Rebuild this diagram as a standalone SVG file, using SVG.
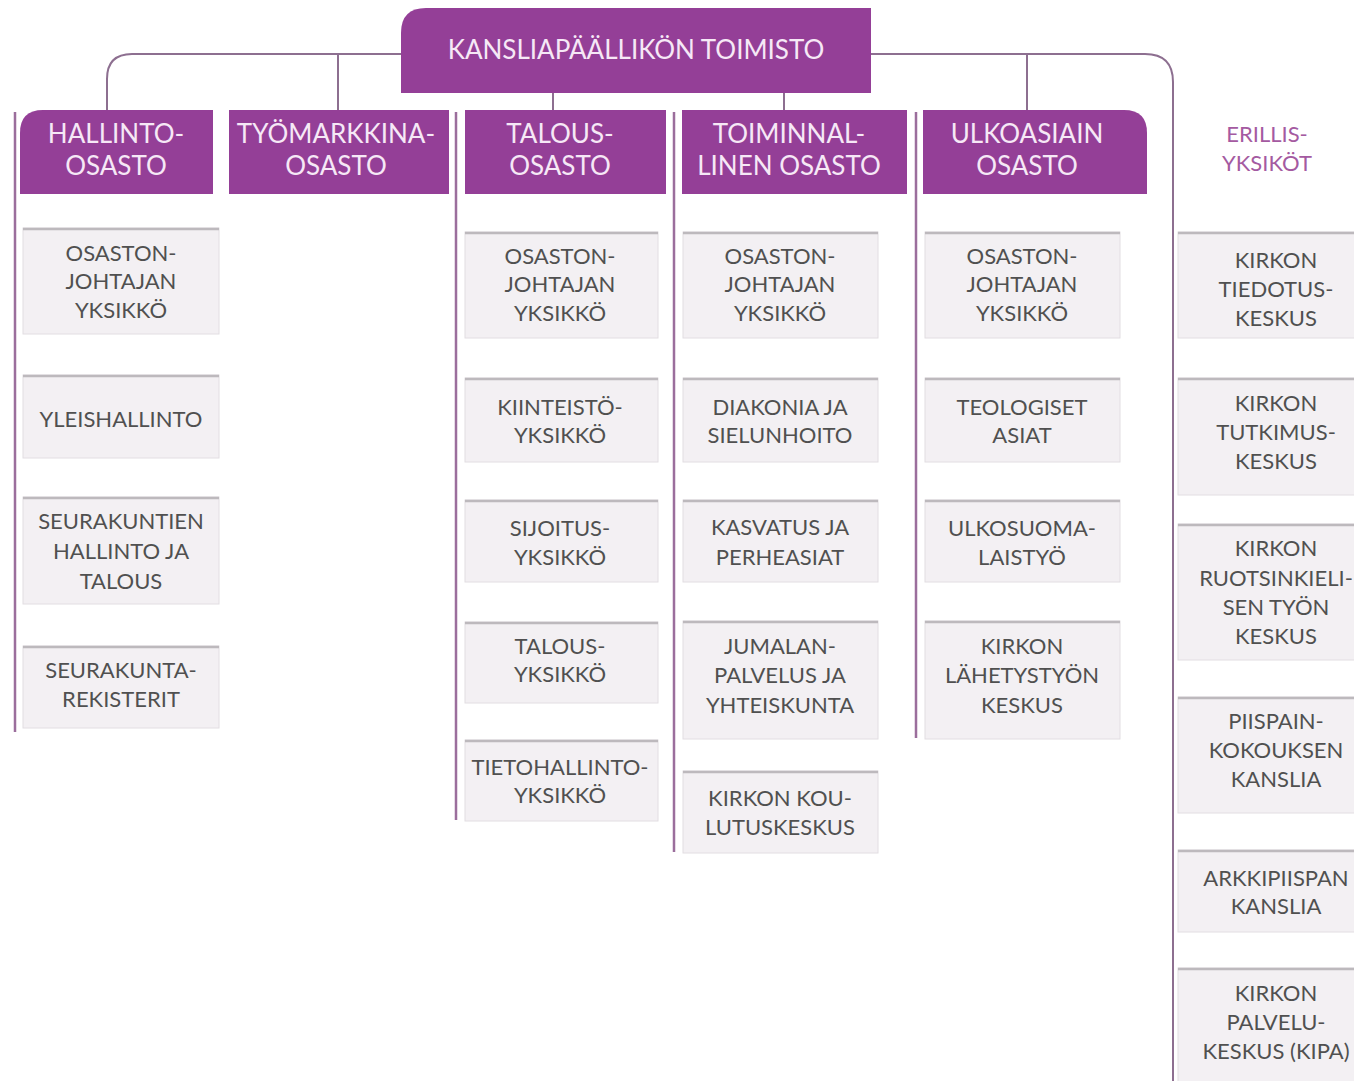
<svg xmlns="http://www.w3.org/2000/svg" width="1354" height="1081" viewBox="0 0 1354 1081">
<style>
.hdr{fill:#943f97}
.ht{font-family:Lato,"Liberation Sans",sans-serif;font-size:26px;fill:#f6e8f6;text-anchor:middle}
.bx{fill:#f3f0f3;stroke:#e2dee2;stroke-width:1}
.bt{stroke:#bdb9bd;stroke-width:2.5;fill:none}
.t{font-family:Lato,"Liberation Sans",sans-serif;font-size:22px;fill:#505050;text-anchor:middle}
.con{fill:none;stroke:#8d6f90;stroke-width:2}
.col{fill:none;stroke:#9b6e9c;stroke-width:2.5}
.er{font-family:Lato,"Liberation Sans",sans-serif;font-size:22px;fill:#a45aa1;text-anchor:middle}
</style>
<rect width="1354" height="1081" fill="#ffffff"/>
<g id="connectors">
<path class="con" d="M401 54 H132 Q107 54 107 79 V110"/>
<path class="con" d="M338 54 V110"/>
<path class="con" d="M553 93 V110"/>
<path class="con" d="M784 93 V110"/>
<path class="con" d="M871 54 H1145 Q1173 54 1173 82 V1081"/>
<path class="con" d="M1027 54 V110"/>
<path class="col" d="M15 112 V732"/>
<path class="col" d="M456 112 V820"/>
<path class="col" d="M674 112 V852"/>
<path class="col" d="M916 112 V738"/>
</g>
<g id="top">
<path class="hdr" d="M426 8 H871 V93 H401 V33 Q401 8 426 8 Z"/>
<text class="ht" x="636" y="59">KANSLIAPÄÄLLIKÖN TOIMISTO</text>
</g>
<g id="hallinto">
<path class="hdr" d="M43 110 H213 V194 H20 V133 Q20 110 43 110 Z"/>
<text class="ht" x="116" y="143">HALLINTO-</text>
<text class="ht" x="116" y="175">OSASTO</text>
</g>
<g id="tyomarkkina">
<rect class="hdr" x="229" y="110" width="220" height="84"/>
<text class="ht" x="336" y="143">TYÖMARKKINA-</text>
<text class="ht" x="336" y="175">OSASTO</text>
</g>
<g id="talous">
<rect class="hdr" x="465" y="110" width="201" height="84"/>
<text class="ht" x="560" y="143">TALOUS-</text>
<text class="ht" x="560" y="175">OSASTO</text>
</g>
<g id="toiminnallinen">
<rect class="hdr" x="682" y="110" width="225" height="84"/>
<text class="ht" x="789" y="143">TOIMINNAL-</text>
<text class="ht" x="789" y="175">LINEN OSASTO</text>
</g>
<g id="ulkoasiain">
<path class="hdr" d="M923 110 H1124 Q1147 110 1147 133 V194 H923 Z"/>
<text class="ht" x="1027" y="143">ULKOASIAIN</text>
<text class="ht" x="1027" y="175">OSASTO</text>
</g>
<g id="erillis">
<text class="er" x="1267" y="142">ERILLIS-</text>
<text class="er" x="1267" y="171">YKSIKÖT</text>
</g>
<!-- Hallinto column -->
<g id="h1"><rect class="bx" x="23" y="228" width="196" height="106"/><path class="bt" d="M23 229 H219"/>
<text class="t" x="121" y="261">OSASTON-</text><text class="t" x="121" y="289">JOHTAJAN</text><text class="t" x="121" y="318">YKSIKKÖ</text></g>
<g id="h2"><rect class="bx" x="23" y="375" width="196" height="83"/><path class="bt" d="M23 376 H219"/>
<text class="t" x="121" y="427">YLEISHALLINTO</text></g>
<g id="h3"><rect class="bx" x="23" y="497" width="196" height="107"/><path class="bt" d="M23 498 H219"/>
<text class="t" x="121" y="529">SEURAKUNTIEN</text><text class="t" x="121" y="559">HALLINTO JA</text><text class="t" x="121" y="589">TALOUS</text></g>
<g id="h4"><rect class="bx" x="23" y="646" width="196" height="82"/><path class="bt" d="M23 647 H219"/>
<text class="t" x="121" y="678">SEURAKUNTA-</text><text class="t" x="121" y="707">REKISTERIT</text></g>
<!-- Talous column -->
<g id="t1"><rect class="bx" x="465" y="232" width="193" height="106"/><path class="bt" d="M465 233 H658"/>
<text class="t" x="560" y="264">OSASTON-</text><text class="t" x="560" y="292">JOHTAJAN</text><text class="t" x="560" y="321">YKSIKKÖ</text></g>
<g id="t2"><rect class="bx" x="465" y="378" width="193" height="84"/><path class="bt" d="M465 379 H658"/>
<text class="t" x="560" y="415">KIINTEISTÖ-</text><text class="t" x="560" y="443">YKSIKKÖ</text></g>
<g id="t3"><rect class="bx" x="465" y="500" width="193" height="82"/><path class="bt" d="M465 501 H658"/>
<text class="t" x="560" y="536">SIJOITUS-</text><text class="t" x="560" y="565">YKSIKKÖ</text></g>
<g id="t4"><rect class="bx" x="465" y="622" width="193" height="81"/><path class="bt" d="M465 623 H658"/>
<text class="t" x="560" y="654">TALOUS-</text><text class="t" x="560" y="682">YKSIKKÖ</text></g>
<g id="t5"><rect class="bx" x="465" y="740" width="193" height="81"/><path class="bt" d="M465 741 H658"/>
<text class="t" x="560" y="775">TIETOHALLINTO-</text><text class="t" x="560" y="803">YKSIKKÖ</text></g>
<!-- Toiminnallinen column -->
<g id="o1"><rect class="bx" x="683" y="232" width="195" height="106"/><path class="bt" d="M683 233 H878"/>
<text class="t" x="780" y="264">OSASTON-</text><text class="t" x="780" y="292">JOHTAJAN</text><text class="t" x="780" y="321">YKSIKKÖ</text></g>
<g id="o2"><rect class="bx" x="683" y="378" width="195" height="84"/><path class="bt" d="M683 379 H878"/>
<text class="t" x="780" y="415">DIAKONIA JA</text><text class="t" x="780" y="443">SIELUNHOITO</text></g>
<g id="o3"><rect class="bx" x="683" y="500" width="195" height="82"/><path class="bt" d="M683 501 H878"/>
<text class="t" x="780" y="535">KASVATUS JA</text><text class="t" x="780" y="565">PERHEASIAT</text></g>
<g id="o4"><rect class="bx" x="683" y="621" width="195" height="118"/><path class="bt" d="M683 622 H878"/>
<text class="t" x="780" y="654">JUMALAN-</text><text class="t" x="780" y="683">PALVELUS JA</text><text class="t" x="780" y="713">YHTEISKUNTA</text></g>
<g id="o5"><rect class="bx" x="683" y="771" width="195" height="82"/><path class="bt" d="M683 772 H878"/>
<text class="t" x="780" y="806">KIRKON KOU-</text><text class="t" x="780" y="835">LUTUSKESKUS</text></g>
<!-- Ulkoasiain column -->
<g id="u1"><rect class="bx" x="925" y="232" width="195" height="106"/><path class="bt" d="M925 233 H1120"/>
<text class="t" x="1022" y="264">OSASTON-</text><text class="t" x="1022" y="292">JOHTAJAN</text><text class="t" x="1022" y="321">YKSIKKÖ</text></g>
<g id="u2"><rect class="bx" x="925" y="378" width="195" height="84"/><path class="bt" d="M925 379 H1120"/>
<text class="t" x="1022" y="415">TEOLOGISET</text><text class="t" x="1022" y="443">ASIAT</text></g>
<g id="u3"><rect class="bx" x="925" y="500" width="195" height="82"/><path class="bt" d="M925 501 H1120"/>
<text class="t" x="1022" y="536">ULKOSUOMA-</text><text class="t" x="1022" y="565">LAISTYÖ</text></g>
<g id="u4"><rect class="bx" x="925" y="621" width="195" height="118"/><path class="bt" d="M925 622 H1120"/>
<text class="t" x="1022" y="654">KIRKON</text><text class="t" x="1022" y="683">LÄHETYSTYÖN</text><text class="t" x="1022" y="713">KESKUS</text></g>
<!-- Erillis column -->
<g id="e1"><rect class="bx" x="1178" y="232" width="180" height="106"/><path class="bt" d="M1178 233 H1354"/>
<text class="t" x="1276" y="268">KIRKON</text><text class="t" x="1276" y="297">TIEDOTUS-</text><text class="t" x="1276" y="326">KESKUS</text></g>
<g id="e2"><rect class="bx" x="1178" y="378" width="180" height="117"/><path class="bt" d="M1178 379 H1354"/>
<text class="t" x="1276" y="411">KIRKON</text><text class="t" x="1276" y="440">TUTKIMUS-</text><text class="t" x="1276" y="469">KESKUS</text></g>
<g id="e3"><rect class="bx" x="1178" y="524" width="180" height="136"/><path class="bt" d="M1178 525 H1354"/>
<text class="t" x="1276" y="556">KIRKON</text><text class="t" x="1276" y="586">RUOTSINKIELI-</text><text class="t" x="1276" y="615">SEN TYÖN</text><text class="t" x="1276" y="644">KESKUS</text></g>
<g id="e4"><rect class="bx" x="1178" y="697" width="180" height="116"/><path class="bt" d="M1178 698 H1354"/>
<text class="t" x="1276" y="729">PIISPAIN-</text><text class="t" x="1276" y="758">KOKOUKSEN</text><text class="t" x="1276" y="787">KANSLIA</text></g>
<g id="e5"><rect class="bx" x="1178" y="850" width="180" height="82"/><path class="bt" d="M1178 851 H1354"/>
<text class="t" x="1276" y="886">ARKKIPIISPAN</text><text class="t" x="1276" y="914">KANSLIA</text></g>
<g id="e6"><rect class="bx" x="1178" y="968" width="180" height="120"/><path class="bt" d="M1178 969 H1354"/>
<text class="t" x="1276" y="1001">KIRKON</text><text class="t" x="1276" y="1030">PALVELU-</text><text class="t" x="1276" y="1059">KESKUS (KIPA)</text></g>
</svg>
